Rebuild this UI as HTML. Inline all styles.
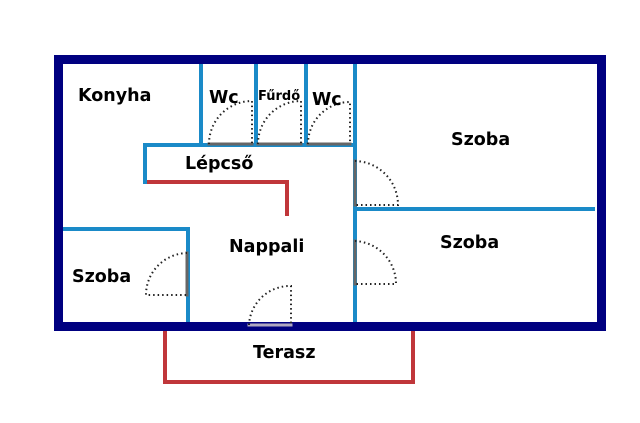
<!DOCTYPE html><html><head><meta charset="utf-8"><style>body{margin:0;background:#fff}svg{display:block}text{font-family:"DejaVu Sans","Liberation Sans",sans-serif;font-weight:bold;fill:#000}</style></head><body>
<svg width="640" height="423" viewBox="0 0 640 423">
<g fill="none" stroke-linecap="square">
<g stroke="#c0363a" stroke-width="4">
<polyline points="145,182 287,182 287,214"/>
<polyline points="165,331 165,382 413,382 413,331"/>
</g>
<g stroke="#1a8ac8" stroke-width="4">
<line x1="201" y1="60" x2="201" y2="143"/><line x1="256" y1="60" x2="256" y2="143"/><line x1="306" y1="60" x2="306" y2="143"/>
<line x1="355" y1="60" x2="355" y2="322"/>
<polyline points="145,182 145,145 355,145"/>
<line x1="355" y1="209" x2="593" y2="209"/>
<polyline points="62,229 188,229 188,322"/>
</g>
<rect x="58.5" y="59.5" width="543" height="267" stroke="#000080" stroke-width="9"/>
<g stroke="#666" stroke-width="3">
<line x1="209" y1="144" x2="252" y2="144"/><line x1="258" y1="144" x2="301" y2="144"/><line x1="308" y1="144" x2="350" y2="144"/>
<line x1="355" y1="161" x2="355" y2="205"/><line x1="355" y1="241" x2="355" y2="284"/><line x1="187" y1="253" x2="187" y2="295"/>
</g>
<line x1="249" y1="325" x2="291" y2="325" stroke="#b0a8c0" stroke-width="3"/>
<g stroke="#222" stroke-width="2" stroke-dasharray="1.5,3" stroke-linecap="butt">
<path d="M209,144 A43,43 0 0 1 252,101 L252,144"/>
<path d="M258,144 A43,43 0 0 1 301,101 L301,144"/>
<path d="M308,144 A42,42 0 0 1 350,102 L350,144"/>
<path d="M355,161 A44,44 0 0 1 398,205 L355,205"/>
<path d="M355,241 A43,43 0 0 1 396,284 L355,284"/>
<path d="M187,253 A42,42 0 0 0 146,295 L187,295"/>
<path d="M249,325 A41,41 0 0 1 291,286 L291,325"/>
</g>
</g>
<g font-size="17.5">
<text x="78" y="101">Konyha</text>
<text x="209" y="103">Wc</text>
<text x="312" y="105">Wc</text>
<text x="185" y="169">Lépcső</text>
<text x="451" y="145">Szoba</text>
<text x="440" y="248">Szoba</text>
<text x="229" y="252">Nappali</text>
<text x="72" y="282">Szoba</text>
<text x="253" y="358">Terasz</text>
</g>
<text x="258" y="100" font-size="13">Fűrdő</text>
</svg></body></html>
